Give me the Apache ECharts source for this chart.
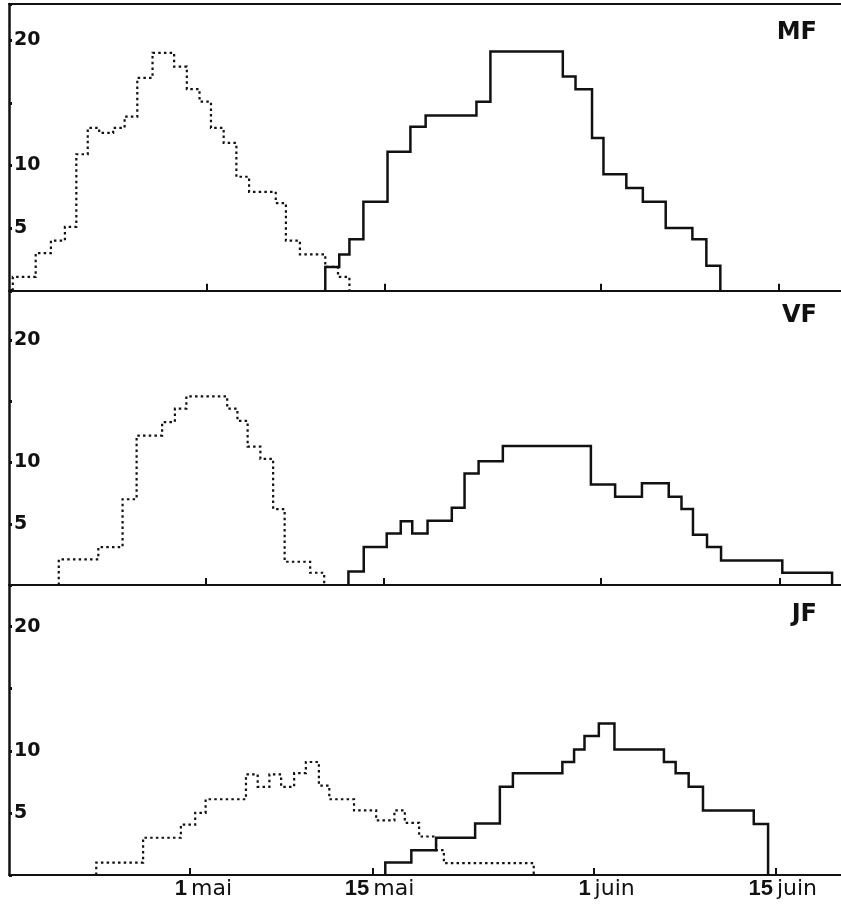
<!DOCTYPE html>
<html>
<head>
<meta charset="utf-8">
<script src="https://cdn.jsdelivr.net/npm/echarts@6/dist/echarts.min.js"></script>
<style>
  html, body { margin: 0; padding: 0; background: #fff; }
  #chart { width: 841px; height: 907px; }
</style>
</head>
<body>
<div id="chart"></div>
<script>
// Days are counted from 1 May (day 0 = 1 mai).
const tickDays = [0, 14, 31, 45];
const tickDayNumbers = ['1', '15', '1', '15'];
const tickMonths = ['mai', 'mai', 'juin', 'juin'];
const valueLabels = [5, 10, 20];
const panelNames = ['MF', 'VF', 'JF'];

// Step histograms: bin edges (days) and the value of each bin.
const mfDottedEdges = [-15.3, -13.5, -12.3, -11.2, -10.3, -9.4, -8.5, -7.4, -6.5, -5.5, -4.3, -2.6, -1.6, -0.6, 0.3, 1.3, 2.3, 3.3, 5.4, 6.2, 7.3, 9.3, 10.3, 11.2];
const mfDottedValues = [1.1, 3.0, 4.0, 5.1, 10.9, 13.0, 12.6, 13.0, 13.9, 17.0, 19.0, 17.9, 16.1, 15.1, 13.0, 11.8, 9.1, 7.9, 7.0, 4.0, 2.9, 1.9, 1.1];
const mfSolidEdges = [9.3, 10.4, 11.2, 12.3, 14.2, 16.0, 17.2, 21.2, 22.3, 28.0, 29.0, 30.3, 31.2, 33.0, 34.3, 36.1, 38.2, 39.3, 40.4];
const mfSolidValues = [1.9, 2.9, 4.1, 7.1, 11.1, 13.1, 14.0, 15.1, 19.1, 17.1, 16.1, 12.2, 9.3, 8.2, 7.1, 5.0, 4.1, 2.0];

const vfDottedEdges = [-11.5, -8.4, -6.5, -5.4, -3.4, -2.4, -1.5, 1.7, 2.5, 3.3, 4.3, 5.3, 6.2, 8.2, 9.3];
const vfDottedValues = [2.1, 3.1, 7.0, 12.2, 13.3, 14.4, 15.4, 14.4, 13.4, 11.3, 10.3, 6.2, 1.9, 1.0];
const vfSolidEdges = [11.2, 12.4, 14.2, 15.3, 16.2, 17.4, 19.3, 20.3, 21.4, 23.3, 30.2, 32.1, 34.2, 36.3, 37.3, 38.2, 39.3, 40.4, 45.2, 49.1];
const vfSolidValues = [1.1, 3.1, 4.2, 5.2, 4.2, 5.25, 6.3, 9.1, 10.1, 11.35, 8.2, 7.2, 8.3, 7.2, 6.2, 4.1, 3.1, 2.0, 1.0];

const jfDottedEdges = [-7.2, -3.6, -0.7, 0.4, 1.2, 4.3, 5.2, 6.1, 7.0, 8.0, 8.9, 9.9, 10.7, 12.6, 14.3, 15.7, 16.5, 17.6, 18.9, 19.5, 26.4];
const jfDottedValues = [1.0, 3.0, 4.05, 5.0, 6.1, 8.1, 7.1, 8.1, 7.1, 8.2, 9.1, 7.2, 6.1, 5.2, 4.4, 5.2, 4.2, 3.1, 2.0, 0.95];
const jfSolidEdges = [15.0, 17.0, 18.9, 21.9, 23.8, 24.8, 28.6, 29.5, 30.3, 31.4, 32.6, 36.4, 37.3, 38.3, 39.4, 43.3, 44.4];
const jfSolidValues = [1.0, 2.0, 3.0, 4.15, 7.1, 8.2, 9.1, 10.1, 11.2, 12.2, 10.1, 9.1, 8.2, 7.1, 5.2, 4.1];

const FONT = 'DejaVu Sans';
const NUM_FONT = 'Liberation Sans';
const INK = '#111';

// Outline of a histogram: rises from zero at the first edge, steps across each bin, falls back to zero.
function outline(edges, values) {
  const pts = [[edges[0], 0]];
  values.forEach((v, i) => {
    pts.push([edges[i], v]);
    pts.push([edges[i + 1], v]);
  });
  pts.push([edges[edges.length - 1], 0]);
  return pts;
}

function tickIndex(v) {
  return tickDays.findIndex(d => Math.abs(d - v) < 1e-6);
}

const panels = [
  { dotted: outline(mfDottedEdges, mfDottedValues), solid: outline(mfSolidEdges, mfSolidValues) },
  { dotted: outline(vfDottedEdges, vfDottedValues), solid: outline(vfSolidEdges, vfSolidValues) },
  { dotted: outline(jfDottedEdges, jfDottedValues), solid: outline(jfSolidEdges, jfSolidValues) }
];

// Panel frames (pixels) and per-panel axis extents.
const gridBoxes = [
  { top: 4, height: 286.7 },
  { top: 291, height: 294 },
  { top: 585, height: 290 }
];
const dayExtents = [[-15.6, 49.9], [-15.4, 49.8], [-13.9, 50.0]];
const valueMax = [22.9, 24, 23.35];
const titleTops = [21, 304, 603];

const grid = gridBoxes.map(b => ({ left: 9, right: 0, top: b.top, height: b.height }));

const xAxis = gridBoxes.map((b, i) => ({
  gridIndex: i,
  type: 'value',
  min: dayExtents[i][0],
  max: dayExtents[i][1],
  axisLine: { show: true, onZero: false, lineStyle: { color: INK, width: 2 } },
  axisTick: { show: true, inside: true, length: 7, customValues: tickDays, lineStyle: { color: INK, width: 2 } },
  splitLine: { show: false },
  axisLabel: i === 2 ? {
    show: true,
    customValues: tickDays,
    margin: 3,
    align: 'right',
    padding: [0, 3, 0, 0],
    fontFamily: NUM_FONT,
    fontWeight: 'bold',
    fontSize: 22,
    color: INK,
    formatter: v => {
      const k = tickIndex(v);
      return k < 0 ? '' : tickDayNumbers[k];
    }
  } : { show: false }
}));
// top frame line of the first panel
xAxis.push({
  gridIndex: 0, type: 'value', position: 'top',
  min: dayExtents[0][0], max: dayExtents[0][1],
  axisLine: { show: true, onZero: false, lineStyle: { color: INK, width: 2 } },
  axisTick: { show: false }, axisLabel: { show: false }, splitLine: { show: false }
});
// month names, set just right of each date tick on the bottom panel
xAxis.push({
  gridIndex: 2, type: 'value', position: 'bottom',
  min: dayExtents[2][0], max: dayExtents[2][1],
  axisLine: { show: false }, axisTick: { show: false }, splitLine: { show: false },
  axisLabel: {
    show: true,
    customValues: tickDays,
    margin: 3,
    align: 'left',
    padding: [0, 0, 0, 1],
    fontFamily: FONT,
    fontSize: 22,
    color: INK,
    formatter: v => {
      const k = tickIndex(v);
      return k < 0 ? '' : tickMonths[k];
    }
  }
});

const yAxis = gridBoxes.map((b, i) => ({
  gridIndex: i,
  type: 'value',
  min: 0,
  max: valueMax[i],
  interval: 5,
  axisLine: { show: true, onZero: false, lineStyle: { color: INK, width: 2.5 } },
  axisTick: { show: true, inside: true, length: 3, lineStyle: { color: INK, width: 3 } },
  splitLine: { show: false },
  axisLabel: {
    inside: true,
    margin: 5,
    fontFamily: FONT,
    fontWeight: 'bold',
    fontSize: 19,
    color: INK,
    formatter: v => (valueLabels.indexOf(v) >= 0 ? String(v) : '')
  }
}));

const series = [];
panels.forEach((p, i) => {
  series.push({
    type: 'line', xAxisIndex: i, yAxisIndex: i, data: p.dotted,
    showSymbol: false, silent: true,
    lineStyle: { color: INK, width: 2.2, type: [2.5, 3.2], cap: 'butt', join: 'miter' }
  });
  series.push({
    type: 'line', xAxisIndex: i, yAxisIndex: i, data: p.solid,
    showSymbol: false, silent: true,
    lineStyle: { color: INK, width: 2.5, join: 'miter' }
  });
});

const title = panelNames.map((name, i) => ({
  text: name,
  right: 24,
  top: titleTops[i],
  padding: 0,
  textStyle: { fontFamily: FONT, fontWeight: 'bold', fontSize: 24, color: INK }
}));

const chart = echarts.init(document.getElementById('chart'));
chart.setOption({
  animation: false,
  backgroundColor: '#fff',
  title,
  grid,
  xAxis,
  yAxis,
  series
});
</script>
</body>
</html>
